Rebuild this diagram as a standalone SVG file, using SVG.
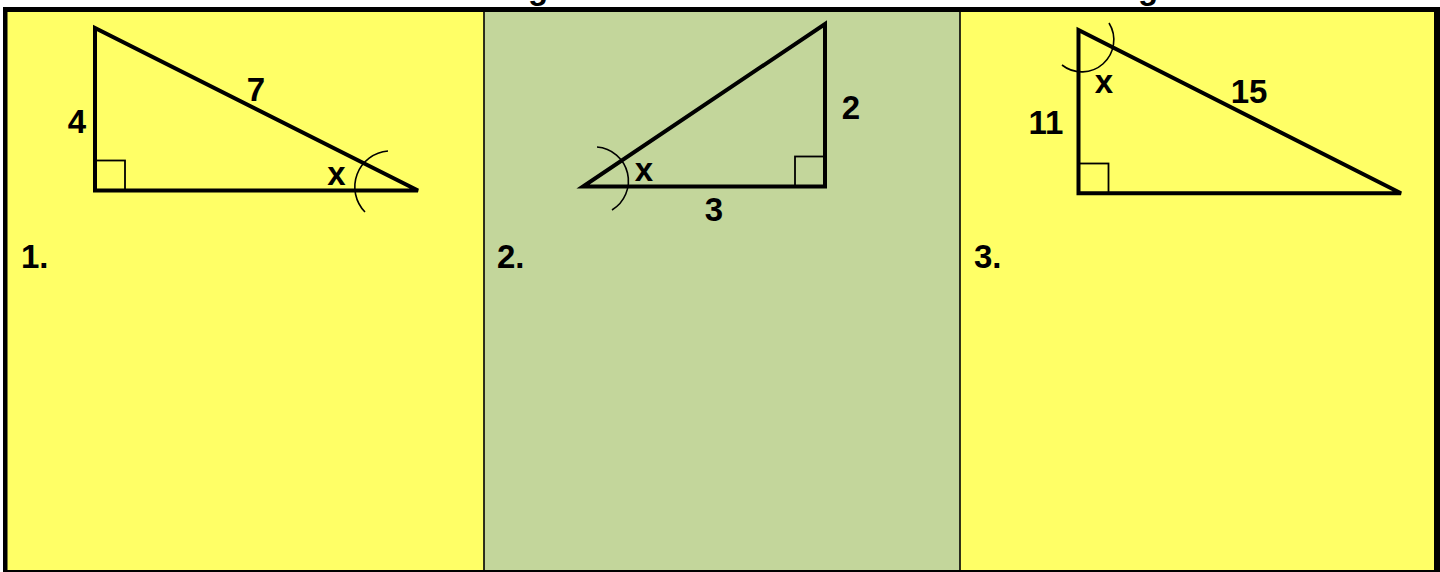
<svg xmlns="http://www.w3.org/2000/svg" width="1440" height="572" viewBox="0 0 1440 572">
<style>
.tri{fill:none;stroke:#000;stroke-width:4;stroke-linejoin:miter}
.sq{fill:none;stroke:#000;stroke-width:1.8}
.arc{fill:none;stroke:#000;stroke-width:1.6}
.lbl{font-family:"Liberation Sans",Arial,sans-serif;font-weight:bold;font-size:33px;fill:#000;text-anchor:middle}
.num{font-family:"Liberation Sans",Arial,sans-serif;font-weight:bold;font-size:33px;fill:#000}
.div{stroke:#000;stroke-width:1.6}
</style>
<rect x="0" y="0" width="1440" height="572" fill="#ffffff"/>
<text class="lbl" x="538" y="-1.5" font-size="32">g</text>
<text class="lbl" x="1148" y="-1.5" font-size="32">g</text>
<g id="panels">
<rect x="7" y="12" width="477" height="560" fill="#FFFF66"/>
<rect x="484" y="12" width="476" height="560" fill="#C3D69B"/>
<rect x="960" y="12" width="474" height="560" fill="#FFFF66"/>
</g>
<g id="frame">
<rect x="3" y="7" width="1437" height="5" fill="#000"/>
<rect x="3" y="7" width="4.5" height="565" fill="#000"/>
<rect x="1434" y="7" width="6" height="565" fill="#000"/>
<rect x="3" y="570" width="1437" height="2" fill="#000"/>
<line class="div" x1="484" y1="12" x2="484" y2="572"/>
<line class="div" x1="960" y1="12" x2="960" y2="572"/>
</g>
<g id="triangle1">
<polygon class="tri" points="95,28 95,190.5 418,190.5"/>
<rect class="sq" x="95" y="160.5" width="30" height="30"/>
<path class="arc" d="M388 151 A36 36 0 0 0 365 212"/>
<text class="lbl" x="77" y="133">4</text>
<text class="lbl" x="256" y="101">7</text>
<text class="lbl" x="336.5" y="185">x</text>
<text class="num" x="21" y="268">1.</text>
</g>
<g id="triangle2">
<polygon class="tri" points="825,24 825,186.5 583,186.5"/>
<rect class="sq" x="795" y="156.5" width="30" height="30"/>
<path class="arc" d="M597 147 A34 34 0 0 1 612 210"/>
<text class="lbl" x="851" y="119">2</text>
<text class="lbl" x="714" y="221">3</text>
<text class="lbl" x="644" y="181">x</text>
<text class="num" x="497" y="268">2.</text>
</g>
<g id="triangle3">
<polygon class="tri" points="1078.5,30 1078.5,193.3 1401,193.3"/>
<rect class="sq" x="1078.5" y="163.5" width="30" height="30"/>
<path class="arc" d="M1109 23 A32 32 0 0 1 1062 65"/>
<text class="lbl" x="1046" y="134">11</text>
<text class="lbl" x="1249" y="103">15</text>
<text class="lbl" x="1104" y="93">x</text>
<text class="num" x="974" y="268">3.</text>
</g>
</svg>
